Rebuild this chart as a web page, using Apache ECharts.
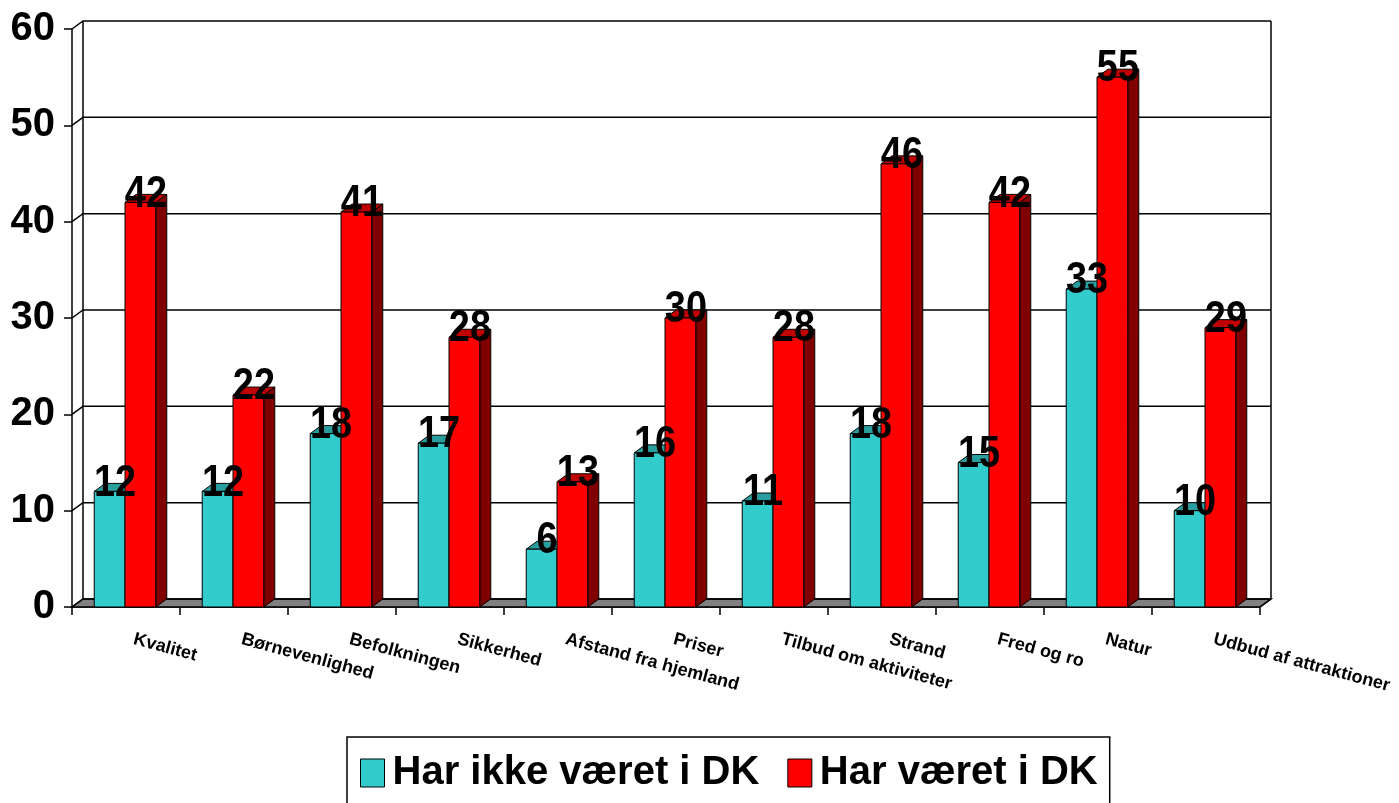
<!DOCTYPE html>
<html><head><meta charset="utf-8">
<script src="https://cdn.jsdelivr.net/npm/echarts@6/dist/echarts.min.js"></script>
<style>html,body{margin:0;padding:0;background:#fff}#c{width:1399px;height:803px}</style>
</head><body><div id="c"></div>
<script>
const categories = ['Kvalitet','Børnevenlighed','Befolkningen','Sikkerhed','Afstand fra hjemland','Priser','Tilbud om aktiviteter','Strand','Fred og ro','Natur','Udbud af attraktioner'];
const notInDK = [12,12,18,17,6,16,11,18,15,33,10];
const beenInDK = [42,22,41,28,13,30,28,46,42,55,29];
const yTicks = [0,10,20,30,40,50,60];
const seriesNames = ['Har ikke været i DK','Har været i DK'];

const FONT = '"Liberation Sans", Arial, sans-serif';
const DX = 11, DY = 8;
const STYLES = [
  {front:'#33CCCC', top:'#2A9E9E', side:'#1A7F7F'},
  {front:'#FF0000', top:'#C00000', side:'#800000'}
];

function barGeom(api, i, v, s) {
  const p = api.coord([i, v]);
  const base = api.coord([i, 0]);
  const band = api.size([1, 0])[0];
  const w = band * 0.285;
  const x0 = s === 0 ? p[0] - w - 1 : p[0] - 1;
  return {x0: x0, x1: x0 + w, w: w, yt: p[1], yb: base[1]};
}

function barRender(s) {
  const st = STYLES[s];
  return function (params, api) {
    const g = barGeom(api, api.value(0), api.value(1), s);
    const k = {stroke:'#000', lineWidth:1};
    return {type:'group', children:[
      {type:'polygon', shape:{points:[[g.x1,g.yb],[g.x1+DX,g.yb-DY],[g.x1+DX,g.yt-DY],[g.x1,g.yt]]}, style:Object.assign({fill:st.side}, k)},
      {type:'polygon', shape:{points:[[g.x0,g.yt],[g.x1,g.yt],[g.x1+DX,g.yt-DY],[g.x0+DX,g.yt-DY]]}, style:Object.assign({fill:st.top}, k)},
      {type:'rect', shape:{x:g.x0, y:g.yt, width:g.w, height:g.yb-g.yt}, style:Object.assign({fill:st.front}, k)}
    ]};
  };
}

function wallRender(params, api) {
  const cs = params.coordSys;
  const L = cs.x, R = cs.x + cs.width;
  const yTop = api.coord([0, yTicks[yTicks.length-1]])[1];
  const yBot = api.coord([0, 0])[1];
  const ch = [];
  const ln = {stroke:'#000', lineWidth:1.5};
  ch.push({type:'polygon', shape:{points:[[L,yBot],[R,yBot],[R+DX,yBot-DY],[L+DX,yBot-DY]]}, style:{fill:'#808080', stroke:'#000', lineWidth:1.5}});
  yTicks.forEach(function (t) {
    const y = api.coord([0, t])[1];
    ch.push({type:'polyline', shape:{points:[[L,y],[L+DX,y-DY],[R+DX,y-DY]]}, style:Object.assign({fill:null}, ln)});
  });
  ch.push({type:'line', shape:{x1:L+DX, y1:yTop-DY, x2:L+DX, y2:yBot-DY}, style:ln});
  ch.push({type:'line', shape:{x1:R+DX, y1:yTop-DY, x2:R+DX, y2:yBot-DY}, style:ln});
  ch.push({type:'line', shape:{x1:R, y1:yBot, x2:R+DX, y2:yBot-DY}, style:ln});
  return {type:'group', children:ch};
}

function labelRender(params, api) {
  const s = api.value(2);
  const v = api.value(1);
  const g = barGeom(api, api.value(0), v, s);
  return {type:'text', x:g.x0 + (g.w + DX)/2, y:g.yt - 8, scaleX:0.86,
    style:{text:String(v), fill:'#000', font:'bold 44px ' + FONT, align:'center', verticalAlign:'middle'}};
}

const labelData = [];
notInDK.forEach(function (v, i) { labelData.push([i, v, 0]); });
beenInDK.forEach(function (v, i) { labelData.push([i, v, 1]); });

const chart = echarts.init(document.getElementById('c'), null, {renderer:'canvas'});
chart.setOption({
  animation:false,
  backgroundColor:'#fff',
  grid:{left:72, right:139, top:29, bottom:196, containLabel:false},
  xAxis:{type:'category', data:categories,
    axisLine:{show:true, lineStyle:{color:'#000', width:1.5}},
    axisTick:{show:true, length:8, lineStyle:{color:'#000', width:1.5}},
    axisLabel:{rotate:-15, margin:30, padding:[0,0,0,8], interval:0, color:'#000', fontSize:18, fontWeight:'bold', fontFamily:FONT},
    splitLine:{show:false}},
  yAxis:{type:'value', min:0, max:60, interval:10,
    axisLine:{show:true, lineStyle:{color:'#000', width:1.5}},
    axisTick:{show:true, length:8, lineStyle:{color:'#000', width:1.5}},
    axisLabel:{margin:17, color:'#000', fontSize:40, fontWeight:'bold', fontFamily:FONT},
    splitLine:{show:false}},
  legend:{left:347, top:737, orient:'horizontal', selectedMode:false,
    data:[
      {name:seriesNames[0], icon:'rect', itemStyle:{color:STYLES[0].front, borderColor:'#000', borderWidth:1}},
      {name:seriesNames[1], icon:'rect', itemStyle:{color:STYLES[1].front, borderColor:'#000', borderWidth:1}}
    ],
    itemWidth:24, itemHeight:28, itemGap:28,
    borderColor:'#000', borderWidth:1.5, padding:[16,12,16,13],
    textStyle:{fontSize:40, fontWeight:'bold', color:'#000', fontFamily:FONT, padding:[0,0,0,3]}},
  series:[
    {type:'custom', name:'walls', data:[[0,0]], renderItem:wallRender, z:1, silent:true, encode:{x:0,y:1}},
    {type:'custom', name:seriesNames[0], data:notInDK.map(function (v,i){return [i,v];}), renderItem:barRender(0), z:2, encode:{x:0,y:1}, itemStyle:{color:STYLES[0].front}},
    {type:'custom', name:seriesNames[1], data:beenInDK.map(function (v,i){return [i,v];}), renderItem:barRender(1), z:3, encode:{x:0,y:1}, itemStyle:{color:STYLES[1].front}},
    {type:'custom', name:'labels', data:labelData, renderItem:labelRender, z:10, silent:true, encode:{x:0,y:1}}
  ]
});
</script></body></html>
